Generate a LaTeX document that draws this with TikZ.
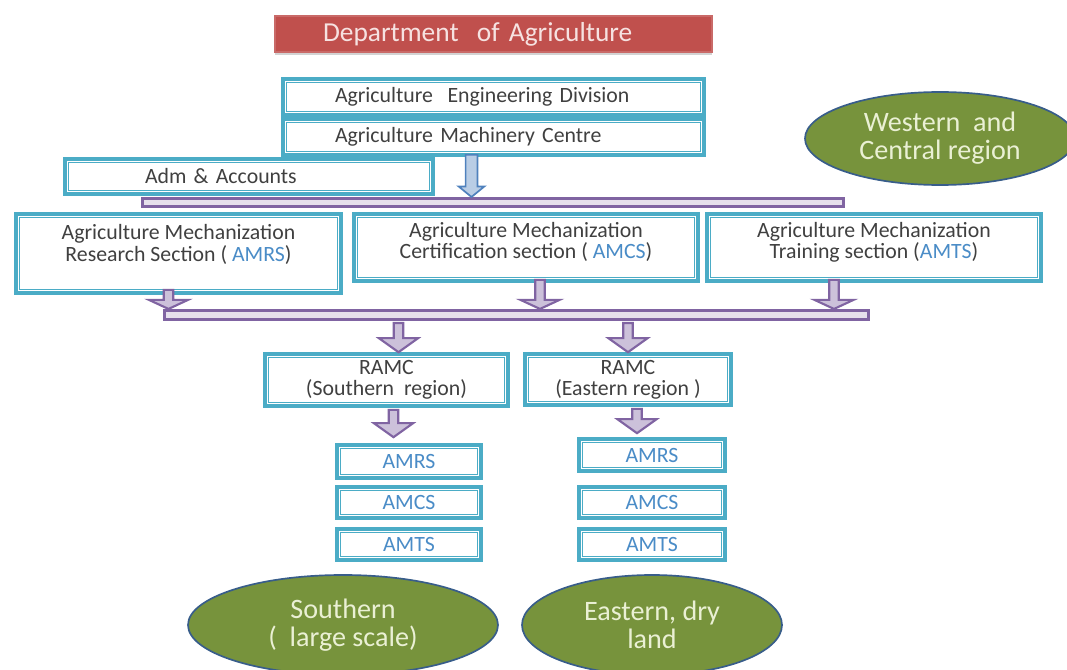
\documentclass[tikz,border=0pt]{standalone}
\usepackage{fontspec}
\setmainfont{Carlito}
\usepackage{xcolor}
\usepackage{tikz}
\usetikzlibrary{calc}
\usetikzlibrary{shapes.geometric}
\usetikzlibrary{shadows}

\definecolor{tealc}{HTML}{4BACC6}
\definecolor{purplec}{HTML}{8064A2}
\definecolor{lavc}{HTML}{CCC1DA}
\definecolor{bluec}{HTML}{4F81BD}
\definecolor{lbluec}{HTML}{B9CDE5}
\definecolor{greenc}{HTML}{77933C}
\definecolor{navyc}{HTML}{385D8A}
\definecolor{creamc}{HTML}{EAF0D4}
\definecolor{redc}{HTML}{C0504D}
\definecolor{pinkc}{HTML}{F6E2E1}
\definecolor{txtc}{HTML}{404040}
\definecolor{labc}{HTML}{4A8CC7}

\newcommand{\bodyfont}{\fontsize{15.5}{15}\selectfont}
\newcommand{\titlefont}{\fontsize{19.5}{21}\selectfont}
\newcommand{\regfont}{\fontsize{20}{20}\selectfont}
\newcommand{\ab}[1]{\textcolor{labc}{#1}}
% block arrow pointing down, x from first point, tip at y of second
\newcommand{\blockarrow}[3]{%
  \draw[#1] let \p1=#2, \p2=#3 in
    ({\x1-\sw},\y1) -- ({\x1+\sw},\y1) -- ({\x1+\sw},{\y2+\hl})
    -- ({\x1+\hw},{\y2+\hl}) -- (\x1,\y2) -- ({\x1-\hw},{\y2+\hl})
    -- ({\x1-\sw},{\y2+\hl}) -- cycle;}

\begin{document}
\begin{tikzpicture}[x=0.025cm,y=-0.025cm,
    sz/.style 2 args={minimum width=#1*\px,minimum height=#2*\px},
    box/.style={draw=tealc,line width=2.6pt,fill=white,inner sep=0pt,
      text=txtc,font=\bodyfont,align=center,
      path picture={\draw[tealc,line width=0.6pt]
        ([shift={(2.2pt,-2.2pt)}]path picture bounding box.north west) rectangle
        ([shift={(-2.2pt,2.2pt)}]path picture bounding box.south east);}},
    bar/.style={draw=purplec,line width=2.2pt,fill=lavc!50,inner sep=0pt},
    region/.style={ellipse,draw=navyc,line width=1.2pt,fill=greenc,
      text=creamc,font=\regfont,align=center,inner sep=0pt},
    parrow/.style={draw=purplec,line width=1.5pt,fill=lavc},
    barrow/.style={draw=bluec,line width=1.2pt,fill=lbluec}]
  \def\px{0.025cm}
  \useasboundingbox (0,0) rectangle (1067,670);

  \node[fill=redc,draw=redc!85!white,line width=0.8pt,text=pinkc,font=\titlefont,
    sz={437}{36},text width=341*\px,inner xsep=48*\px,inner ysep=0pt,align=left,
    drop shadow={opacity=0.35,shadow xshift=0pt,shadow yshift=-2pt}]
    (dept) at (493.5,34) {Department~ of Agriculture};

  \node[box,sz={368}{35},text width=208*\px,inner xsep=80*\px,align=left]
    (adm) at (249,176.5) {Adm \& Accounts};
  \node[box,sz={421}{36},text width=317*\px,inner xsep=52*\px,align=left]
    (aed) at (493.5,97) {Agriculture~ Engineering Division};
  \node[box,sz={421}{36},text width=317*\px,inner xsep=52*\px,align=left]
    (amc) at (493.5,137) {Agriculture Machinery Centre};

  \node[region,sz={270}{93}] (west) at (940,138.5) {Western~ and\\Central region};

  \node[bar,sz={701}{8}] (bus1) at (493,202.5) {};

  \node[box,sz={325}{79}] (amrs) at (178.5,253.5)
    {Agriculture Mechanization\\Research Section ( \ab{AMRS})\\\mbox{}};
  \node[box,sz={344}{67},text depth=10pt] (amcs) at (526,247.5)
    {Agriculture Mechanization\\Certification section ( \ab{AMCS})};
  \node[box,sz={334}{67},text depth=10pt] (amts) at (874,247.5)
    {Agriculture Mechanization\\Training section (\ab{AMTS})};

  \node[bar,sz={704}{9}] (bus2) at (516.5,315) {};

  \node[box,sz={243}{52}] (rs) at (386.5,380) {RAMC\\(Southern~ region)};
  \node[box,sz={206}{51}] (re) at (628,379.5) {RAMC\\(Eastern region )};

  \node[box,sz={144}{33}] (sA) at (409,461.5) {\ab{AMRS}};
  \node[box,sz={144}{31}] (sC) at (409,502.5) {\ab{AMCS}};
  \node[box,sz={144}{31}] (sT) at (409,544.5) {\ab{AMTS}};
  \node[box,sz={146}{32}] (eA) at (652,455) {\ab{AMRS}};
  \node[box,sz={146}{31}] (eC) at (652,502.5) {\ab{AMCS}};
  \node[box,sz={146}{31}] (eT) at (652,544.5) {\ab{AMTS}};

  \node[region,sz={310}{100}] (south) at (343,625) {Southern\\(~ large scale)};
  \node[region,sz={260}{100}] (east) at (652,625) {Eastern, dry\\land};

  % arrows
  \def\sw{4.2pt}\def\hw{9.2pt}\def\hl{7.5pt}
  \blockarrow{barrow}{($(amc.south)+(-22,-2)$)}{(bus1.north)}
  \def\sw{3.4pt}\def\hw{14pt}\def\hl{6.5pt}
  \blockarrow{parrow}{($(amrs.south)+(-10,-5)$)}{(bus2.north)}
  \blockarrow{parrow}{($(amcs.south)+(14,-3)$)}{(bus2.north)}
  \blockarrow{parrow}{($(amts.south)+(-40,-3)$)}{(bus2.north)}
  \def\hl{10pt}
  \blockarrow{parrow}{($(rs.north |- bus2.south)+(12,2)$)}{(rs.north)}
  \blockarrow{parrow}{($(re.north |- bus2.south)+(0,2)$)}{(re.north)}
  \blockarrow{parrow}{($(rs.south)+(7,2)$)}{($(sA.north)+(0,-6)$)}
  \blockarrow{parrow}{($(re.south)+(9,2)$)}{($(eA.north)+(0,-4)$)}
\end{tikzpicture}
\end{document}
